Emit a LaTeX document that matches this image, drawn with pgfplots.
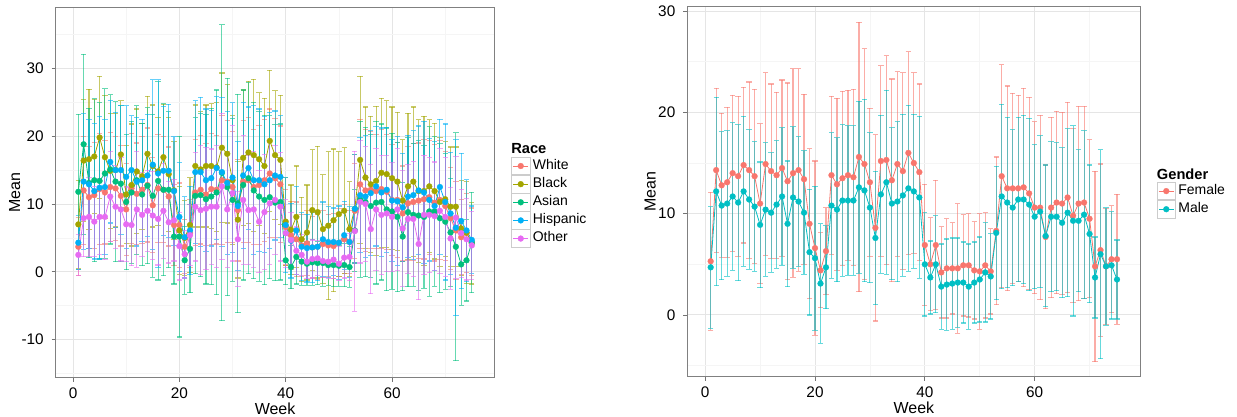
\documentclass[border=0pt]{standalone}
\usepackage{fontspec}
\setmainfont{Liberation Sans}
\usepackage{pgfplots}
\usepackage{pgfplotstable}
\pgfplotsset{compat=1.18}

\definecolor{cW}{HTML}{F8766D}
\definecolor{cB}{HTML}{A3A500}
\definecolor{cA}{HTML}{00BF7D}
\definecolor{cH}{HTML}{00B0F6}
\definecolor{cO}{HTML}{E76BF3}
\definecolor{cM}{HTML}{00BFC4}

% weekly means and error half-widths by race
\pgfplotstableread{
w  wm   we   bm   be   am   ae   hm   he   om   oe
1  3.7  4.3  7.0  6.5  11.8 11.4 4.3  4.0  2.5  3.0
2  12.0 8.0  16.4 9.0  18.8 13.3 13.3 10.0 7.9  5.7
3  11.0 7.5  16.6 10.3 13.1 11.0 12.9 9.5  8.1  5.8
4  11.3 7.8  17.0 8.4  13.5 12.0 11.9 10.0 7.4  5.2
5  12.2 8.2  19.8 9.0  13.4 11.5 12.4 10.5 8.1  5.6
6  11.7 7.6  16.9 9.1  14.5 12.5 12.5 10.0 8.1  6.3
7  12.5 8.0  14.9 8.5  15.1 11.0 16.2 9.0  11.1 6.6
8  12.3 7.7  15.0 8.4  13.3 11.8 15.0 8.5  9.6  6.1
9  11.2 7.4  17.3 7.9  13.0 11.5 15.0 9.5  9.2  7.6
10 9.2  6.8  11.4 7.2  10.3 10.0 14.0 10.5 7.0  5.5
11 12.3 8.1  12.8 9.0  11.7 10.5 15.0 8.0  6.9  6.0
12 11.5 7.5  14.8 9.2  13.5 11.0 13.3 9.5  9.2  8.5
13 12.1 7.9  14.1 7.8  11.4 10.5 13.5 9.0  8.4  6.2
14 12.8 8.4  17.4 8.5  12.7 11.5 14.2 9.0  9.0  6.0
15 9.8  7.0  15.6 9.0  11.2 12.0 15.8 12.5 8.3  6.5
16 12.3 8.0  14.8 8.0  13.4 14.6 14.5 13.8 7.8  6.8
17 12.1 7.8  16.9 7.8  12.1 12.7 14.9 9.5  9.0  7.0
18 11.1 7.3  14.4 8.4  12.1 11.5 14.9 9.8  7.3  6.0
19 6.9  6.0  12.0 7.2  5.2  7.0  11.9 8.0  7.6  6.0
20 6.9  6.2  6.1  6.5  5.2  14.8 8.1  8.0  3.8  5.0
21 3.7  4.0  5.0  5.5  1.7  5.0  5.1  6.0  2.6  3.5
22 5.7  5.0  6.9  7.0  3.4  6.5  6.1  6.5  5.4  4.5
23 11.7 7.8  15.6 9.0  11.2 11.5 14.7 10.5 9.6  8.0
24 12.1 8.0  15.1 8.5  11.3 12.0 14.7 11.0 9.1  9.5
25 11.4 7.5  15.6 9.0  10.7 12.5 13.5 10.5 9.3  9.0
26 12.2 8.2  15.6 9.2  11.1 13.0 13.8 10.0 9.6  8.5
27 12.1 8.0  15.4 9.5  11.7 15.1 15.3 10.5 9.6  9.0
28 13.5 9.5  18.3 11.0 14.6 21.8 14.7 11.0 12.6 10.8
29 13.3 9.0  17.4 10.2 12.5 16.0 13.1 10.5 9.2  8.5
30 12.5 8.2  13.5 9.5  10.6 12.0 13.9 11.0 11.6 10.0
31 9.1  7.5  7.7  8.6  10.1 16.1 9.7  9.5  4.8  7.0
32 13.3 9.0  16.8 10.0 12.8 14.0 14.2 10.8 10.6 9.5
33 13.5 9.2  17.6 10.5 13.8 14.1 15.3 9.0  9.1  8.0
34 12.5 8.5  17.2 11.2 12.0 13.0 13.5 11.0 9.2  8.5
35 12.8 8.8  16.6 9.8  11.1 12.5 13.5 10.5 7.4  7.5
36 13.5 9.0  15.6 10.0 10.6 12.5 12.9 10.0 8.8  8.5
37 14.5 9.5  19.3 10.4 11.0 12.0 13.5 10.0 10.1 9.0
38 13.8 8.8  17.2 9.5  10.2 11.5 14.2 9.5  10.6 8.0
39 12.9 8.6  16.5 9.5  10.3 11.5 14.0 9.0  9.6  8.0
40 6.6  5.6  7.4  6.5  1.7  3.6  6.9  7.0  5.7  5.0
41 5.4  5.0  6.2  6.6  0.7  3.2  4.6  5.5  4.7  4.0
42 4.8  5.5  8.1  7.5  2.2  4.0  6.1  6.5  3.1  3.5
43 3.9  4.6  4.8  6.2  1.5  3.5  3.7  5.0  2.5  3.0
44 4.2  4.8  5.8  7.0  1.2  3.2  3.5  5.0  1.5  2.5
45 3.6  4.5  9.1  8.9  1.4  3.4  3.6  5.2  1.9  2.8
46 3.7  4.8  8.8  9.7  1.3  3.2  3.7  5.0  2.0  2.6
47 4.1  4.9  6.3  8.0  1.3  3.4  4.8  5.5  1.6  2.4
48 3.9  4.6  6.8  10.9 1.0  3.0  4.4  5.2  1.5  2.5
49 3.8  4.8  7.6  10.5 1.0  3.2  4.4  5.0  1.8  2.8
50 4.3  5.0  8.5  9.2  0.9  3.0  4.3  5.4  1.2  2.5
51 4.8  5.1  9.0  9.3  1.0  3.2  5.4  5.0  2.1  3.0
52 4.4  4.6  6.3  7.0  0.7  3.0  4.4  5.2  2.2  3.5
53 9.0  7.0  9.3  8.0  6.1  6.0  9.3  8.0  6.0  11.8
54 12.9 9.5  16.5 12.3 10.7 11.5 11.3 8.5  10.3 9.0
55 12.0 9.0  13.9 10.4 10.3 11.0 11.1 9.0  10.0 8.5
56 12.1 8.6  12.9 10.0 9.7  10.5 11.6 9.2  6.3  9.5
57 11.9 8.4  13.4 11.0 10.2 12.0 12.6 8.8  9.2  9.0
58 12.2 8.8  14.6 11.0 10.3 11.5 11.7 9.5  8.4  8.8
59 11.8 8.5  14.4 10.8 9.2  12.0 12.1 9.2  8.6  8.5
60 10.6 8.2  13.8 10.5 8.9  11.5 10.5 9.0  8.1  8.0
61 10.6 8.5  13.3 10.2 8.1  11.0 10.4 9.5  9.2  9.0
62 8.6  7.0  10.5 9.0  5.2  8.0  9.5  8.0  6.4  8.5
63 10.1 8.4  12.6 10.8 8.8  11.0 11.1 9.0  7.8  8.0
64 10.3 8.6  13.3 11.0 8.4  10.5 11.3 9.5  7.8  8.5
65 10.5 8.5  11.9 10.5 8.3  11.0 12.0 9.5  4.1  8.2
66 10.7 8.8  11.9 11.0 8.1  10.5 11.7 10.5 8.4  8.8
67 11.0 8.4  12.6 9.8  8.9  12.5 10.6 9.0  8.4  8.5
68 10.2 8.6  11.9 10.0 8.9  11.0 9.7  9.5  8.2  8.0
69 10.6 8.8  10.3 9.5  7.9  11.0 12.5 10.0 9.0  9.2
70 9.7  8.0  10.7 8.5  7.4  10.0 10.3 11.5 8.1  8.8
71 7.9  7.5  9.6  8.8  5.8  8.0  8.6  9.0  4.9  7.5
72 6.1  7.2  9.6  8.8  3.7  16.8 6.5  13.0 8.0  9.0
73 5.1  5.5  6.4  7.0  1.1  6.0  7.5  10.0 5.7  6.5
74 5.7  5.8  5.8  7.5  1.7  6.0  6.1  7.5  4.8  6.0
75 4.4  5.0  4.2  6.0  4.3  7.4  4.7  5.0  3.9  5.0
}\race

% weekly means and error half-widths by gender
\pgfplotstableread{
w  fm   fe   mm   me
1  5.3  6.8  4.7  6.0
2  14.3 8.1  12.2 9.3
3  12.8 7.1  10.8 7.3
4  13.1 7.4  11.0 7.2
5  14.0 7.7  11.7 7.3
6  13.7 7.9  11.1 7.7
7  14.8 7.7  12.2 7.4
8  14.3 8.7  11.4 6.9
9  13.7 8.6  10.7 6.4
10 11.0 7.9  8.9  6.2
11 14.9 9.0  10.4 6.6
12 14.2 8.6  10.1 5.9
13 13.8 8.2  10.9 6.3
14 14.5 8.7  11.7 6.8
15 13.2 9.7  9.0  6.2
16 14.0 10.3 11.6 7.0
17 14.3 10.0 11.2 6.4
18 13.4 8.4  10.1 6.1
19 9.0  7.4  6.2  6.2
20 6.6  8.6  5.6  7.1
21 4.4  3.7  3.1  5.9
22 6.3  4.3  4.7  4.1
23 13.8 7.8  10.8 7.2
24 12.9 8.5  10.4 7.1
25 13.5 8.6  11.3 7.5
26 13.8 8.4  11.3 7.4
27 13.6 8.7  11.3 7.4
28 15.6 13.3 12.6 8.5
29 14.9 11.4 12.3 9.0
30 13.1 7.3  10.6 7.4
31 8.6  9.2  7.6  6.6
32 15.2 9.4  11.9 7.8
33 15.3 10.3 13.1 9.1
34 13.3 10.0 11.0 7.5
35 14.9 9.1  11.2 7.9
36 14.2 9.7  11.8 8.0
37 16.0 10.0 12.5 8.2
38 15.0 8.9  12.2 7.6
39 14.1 8.7  11.6 8.0
40 6.9  6.0  5.0  5.1
41 5.0  4.6  3.7  3.6
42 6.9  6.4  5.0  4.8
43 4.2  4.5  2.8  4.2
44 4.6  4.9  3.0  4.5
45 4.6  4.5  3.1  4.5
46 4.6  6.4  3.2  4.4
47 4.9  5.0  3.2  4.0
48 4.9  5.1  2.8  4.2
49 4.4  4.8  3.2  4.0
50 4.3  5.7  3.5  4.2
51 4.9  5.2  4.2  4.9
52 4.3  4.2  3.8  4.2
53 8.3  7.3  8.1  6.6
54 13.7 11.0 11.7 9.1
55 12.5 10.1 11.1 8.4
56 12.5 9.4  10.6 7.7
57 12.5 9.2  11.4 8.1
58 12.6 9.8  11.4 8.3
59 12.0 9.5  10.9 8.5
60 10.6 8.5  9.7  7.1
61 10.6 9.1  10.2 7.5
62 7.7  7.1  7.8  7.0
63 10.6 8.9  9.7  7.4
64 11.1 9.0  9.7  7.3
65 11.0 9.0  9.1  7.4
66 11.6 9.4  10.1 8.3
67 9.8  8.6  9.3  9.4
68 11.0 9.6  9.3  7.0
69 11.1 9.5  9.9  8.3
70 9.5  7.8  8.0  6.8
71 4.8  9.4  3.7  4.0
72 6.4  8.5  6.0  10.3
73 4.8  5.7  4.8  5.8
74 5.5  5.3  4.9  5.3
75 5.5  6.4  3.5  3.9
}\gender

\pgfplotsset{
  gg/.style={
    scale only axis, anchor=south west,
    xmin=-3.25, xmax=79.25,
    xtick={0,20,40,60}, minor xtick={10,30,50,70},
    xtick pos=bottom, ytick pos=left,
    grid=both,
    major grid style={color=black!10, line width=0.7pt},
    minor grid style={color=black!4, line width=0.5pt},
    axis line style={color=black!50, line width=0.7pt},
    tick align=outside, major tick length=3pt, minor tick length=0pt,
    tick style={color=black!55, line width=0.6pt},
    /pgf/number format/assume math mode=true,
    every tick label/.append style={font=\fontsize{11.5}{13}\selectfont},
    yticklabel style={xshift=-2.5pt},
    xticklabel style={yshift=-1pt},
    xlabel={Week}, ylabel={Mean},
    label style={font=\fontsize{12}{14}\selectfont},
    xlabel style={at={(axis description cs:0.5,-0.084)}, anchor=center},
    legend cell align=left,
    legend style={anchor=north west, draw=none, fill=none, inner sep=0pt,
      row sep=0pt, column sep=0pt, font=\fontsize{10.5}{12}\selectfont,
      nodes={inner xsep=1.8pt, inner ysep=0pt, text height=9.1pt, text depth=4pt}},
    legend image code/.code={
      \draw[draw=black!20, fill=white, line width=0.5pt] (0pt,-6.55pt) rectangle (14pt,6.55pt);
      \draw[mark repeat=2, mark phase=2, ##1] plot coordinates {(1.5pt,0pt) (7pt,0pt) (12.5pt,0pt)};
    },
  },
  ebar/.style={forget plot, draw=none, mark=none,
    error bars/.cd, y dir=both, y explicit,
    error bar style={draw=#1, draw opacity=0.6, line width=0.85pt},
    error mark options={draw=#1, draw opacity=0.6, rotate=90, mark size=2pt, line width=0.85pt}},
  ser/.style={color=#1, line width=0.6pt, mark=*, mark size=2.2pt,
    mark options={solid, fill=#1, draw=#1, line width=0.2pt}},
}

\begin{document}
\begin{tikzpicture}[x=1pt,y=1pt]
\useasboundingbox (0,0) rectangle (927.75,312.75);

\begin{axis}[gg, at={(41.8pt,29.5pt)}, width=329pt, height=277.8pt,
  ymin=-15.6, ymax=39, ytick={-10,0,10,20,30}, minor ytick={-15,-5,5,15,25,35},
  ylabel style={at={(axis description cs:-0.0935,0.5)}, anchor=center},
  legend style={at={(1.0374,0.5966)}}]
\addplot[ebar=cW] table[x=w, y=wm, y error=we] {\race};
\addplot[ebar=cB] table[x=w, y=bm, y error=be] {\race};
\addplot[ebar=cA] table[x=w, y=am, y error=ae] {\race};
\addplot[ebar=cH] table[x=w, y=hm, y error=he] {\race};
\addplot[ebar=cO] table[x=w, y=om, y error=oe] {\race};
\addplot[ser=cW] table[x=w, y=wm] {\race};
\addplot[ser=cB] table[x=w, y=bm] {\race};
\addplot[ser=cA] table[x=w, y=am] {\race};
\addplot[ser=cH] table[x=w, y=hm] {\race};
\addplot[ser=cO] table[x=w, y=om] {\race};
\legend{White, Black, Asian, Hispanic, Other}
\end{axis}

\begin{axis}[gg, at={(515.5pt,30.2pt)}, width=339.75pt, height=278pt,
  ymin=-6.1, ymax=30.5, ytick={0,10,20,30}, minor ytick={-5,5,15,25},
  ylabel style={at={(axis description cs:-0.082,0.5)}, anchor=center},
  legend style={at={(1.0353,0.526)}}]
\addplot[ebar=cW] table[x=w, y=fm, y error=fe] {\gender};
\addplot[ebar=cM] table[x=w, y=mm, y error=me] {\gender};
\addplot[ser=cW] table[x=w, y=fm] {\gender};
\addplot[ser=cM] table[x=w, y=mm] {\gender};
\legend{Female, Male}
\end{axis}

\node[anchor=base west, inner sep=0pt, font=\fontsize{11}{12}\selectfont\bfseries] at (383.25,197.8) {Race};
\node[anchor=base west, inner sep=0pt, font=\fontsize{11}{12}\selectfont\bfseries] at (867.5,177.75) {Gender};
\end{tikzpicture}
\end{document}
